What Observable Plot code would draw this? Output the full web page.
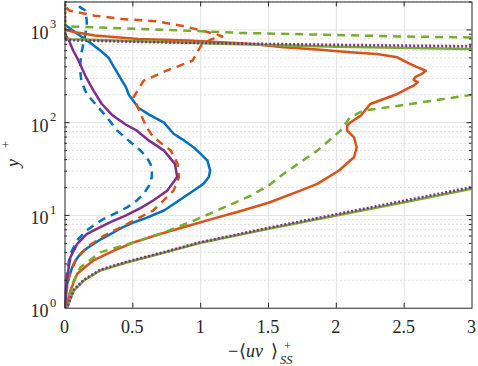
<!DOCTYPE html>
<html>
<head>
<meta charset="utf-8">
<script src="https://cdn.jsdelivr.net/npm/d3@7"></script>
<script src="https://cdn.jsdelivr.net/npm/@observablehq/plot@0.6"></script>
<style>
  html, body { margin: 0; padding: 0; background: white; }
  #chart { position: relative; width: 478px; height: 366px; }
  #labels { position: absolute; left: 0; top: 0; pointer-events: none; }
</style>
</head>
<body>
<div id="chart"></div>
<script>
// ---- tick values / labels ----
const xTicks = [0, 0.5, 1, 1.5, 2, 2.5, 3];
const xTickLabels = ["0", "0.5", "1", "1.5", "2", "2.5", "3"];
const xInnerTicks = [0.5, 1, 1.5, 2, 2.5];
const yDecades = [1, 10, 100, 1000];
const yExponents = ["0", "1", "2", "3"];
const yMinor = [2,3,4,5,6,7,8,9,20,30,40,50,60,70,80,90,200,300,400,500,600,700,800,900,2000];

// ---- series (x = -<uv>+_SS, y = y+) ----
const blueSolid = [[0,1],[0.008,1.4],[0.016,1.83],[0.035,2.3],[0.053,2.76],[0.08,3.3],[0.114,3.86],[0.16,4.4],[0.21,4.94],[0.27,5.6],[0.335,6.3],[0.42,7.4],[0.51,8.45],[0.6,9.4],[0.73,11.3],[0.875,15.7],[0.96,19],[1.02,21.9],[1.06,26],[1.07,30.5],[1.05,39],[1.0,46],[0.95,54],[0.88,64],[0.8,76],[0.73,100],[0.62,122],[0.54,145],[0.5,175],[0.47,200],[0.45,240],[0.42,284],[0.36,400],[0.32,505],[0.26,600],[0.2,700],[0.13,830],[0.06,980],[0.02,1080],[0,1150]];
const blueDashed = [[0,1],[0.005,1.4],[0.016,2.55],[0.04,3.86],[0.09,5.4],[0.16,6.9],[0.22,8],[0.286,9.2],[0.37,10.5],[0.46,12.3],[0.53,14.5],[0.58,17.1],[0.62,21],[0.64,25.9],[0.64,30],[0.63,36],[0.6,43],[0.556,50],[0.47,64],[0.385,82],[0.31,114],[0.24,150],[0.16,204],[0.12,280],[0.11,395],[0.12,550],[0.14,767],[0.15,906],[0.16,1100],[0.16,1260],[0.15,1620],[0.11,1760],[0.08,2000],[0.07,2100]];
const orangeSolid = [[0,1],[0.02,1.2],[0.04,1.55],[0.09,2.35],[0.15,2.8],[0.21,3.27],[0.36,4.17],[0.51,5.14],[0.7,6.3],[0.93,7.9],[1.1,9.3],[1.29,11.1],[1.5,13.7],[1.735,18.5],[1.86,21.9],[2.02,30.5],[2.13,42.4],[2.15,54],[2.13,69.6],[2.08,82],[2.08,93],[2.1,100],[2.18,119],[2.25,159],[2.35,180],[2.45,204],[2.52,231],[2.57,251],[2.6,272],[2.57,290],[2.58,309],[2.63,336],[2.66,363],[2.6,395],[2.52,447],[2.45,507],[2.3,550],[2.1,575],[1.86,615],[1.61,650],[1.4,700],[1.29,720],[0.91,767],[0.54,800],[0.22,870],[0.077,942],[0.004,1000],[0,1060]];
const orangeDashed = [[0,1],[0.004,1.31],[0.028,2.16],[0.077,3.27],[0.16,4.54],[0.29,6.07],[0.46,8.1],[0.556,9.6],[0.65,11.3],[0.7,13.3],[0.8,18.5],[0.84,25.9],[0.83,36],[0.78,50],[0.65,70],[0.6,90],[0.556,125],[0.505,188],[0.58,284],[0.75,364],[0.94,466],[1.01,708],[1.085,800],[1.16,850],[1.13,880],[1.01,985],[0.86,1110],[0.67,1240],[0.42,1310],[0.22,1425],[0.03,1620],[0,1800]];
const purpleSolid = [[0,1],[0.005,1.5],[0.016,2.16],[0.04,3.55],[0.09,4.94],[0.16,6.3],[0.26,7.5],[0.335,8.45],[0.45,10],[0.556,12],[0.65,14.5],[0.753,18.5],[0.827,25.9],[0.81,36],[0.73,50],[0.62,64],[0.53,82],[0.45,95],[0.35,120],[0.27,160],[0.21,222],[0.15,320],[0.1,466],[0.06,600],[0.03,767],[0.01,850],[0,900]];
const greenSolidLower = [[0,1],[0.016,1.02],[0.065,1.55],[0.14,1.99],[0.26,2.55],[0.46,3.13],[0.7,3.86],[0.925,4.74],[1.0,5.07],[1.5,7.17],[2.0,9.98],[2.5,13.9],[3.0,19.4],[3.2,22.5]];
const greenSolidUpper = [[3.2,618],[3.0,624],[2.0,660],[1.29,700],[0.5,760],[0.05,795],[0,810],[0,2100]];
const purpleDottedLower = [[0,1],[0.016,1.03],[0.065,1.58],[0.14,2.03],[0.26,2.6],[0.46,3.18],[0.7,3.92],[1.0,5.15],[1.5,7.35],[2.0,10.3],[2.5,14.4],[3.0,20.2],[3.2,23.5]];
const purpleDottedUpper = [[3.2,660],[3.0,665],[2.0,690],[1.29,712],[0.5,745],[0.05,775],[0,785],[0,2100]];
const greenDashedLower = [[0,1],[0.016,1.0],[0.053,1.83],[0.114,2.76],[0.26,4.0],[0.51,5.14],[0.7,6.3],[0.95,8.8],[1.29,14.5],[1.37,16.4],[1.5,21],[1.61,28],[1.86,50],[2.03,82],[2.1,114],[2.2,135],[2.47,153],[2.79,180],[3.0,200],[3.2,215]];
const greenDashedUpper = [[3.2,820],[3.0,830],[2.45,852],[1.86,890],[1.29,929],[0.91,980],[0.42,1040],[0.077,1085],[0,1100],[0,2100]];

const BLUE = "#0072BD", ORANGE = "#D95319", PURPLE = "#7E2F8E", GREEN = "#77AC30";
const W = 478, H = 366, ML = 64.5, MR = 6.5, MT = 1.5, MB = 58.3;
const PW = W - ML - MR, PH = H - MT - MB;
const SERIF = "Liberation Serif";

function curve(points, stroke, dash, width = 2.5) {
  return Plot.line(points, {x: d => d[0], y: d => d[1], stroke, strokeWidth: width,
    strokeDasharray: dash, strokeLinecap: "butt", clip: true, strokeLinejoin: "round"});
}

const plot = Plot.plot({
  width: W, height: H,
  marginLeft: ML, marginRight: MR, marginTop: MT, marginBottom: MB,
  x: {domain: [0, 3], axis: null},
  y: {type: "log", domain: [1, 2000], axis: null},
  style: {background: "white", color: "#262626"},
  marks: [
    Plot.ruleY(yMinor, {y: d => d, stroke: "#bdbdbd", strokeWidth: 1, strokeDasharray: "1,3"}),
    Plot.ruleX(xInnerTicks, {x: d => d, stroke: "#e3e3e3", strokeWidth: 1}),
    Plot.ruleY([10, 100, 1000], {y: d => d, stroke: "#e3e3e3", strokeWidth: 1}),
    curve(blueSolid, BLUE, null),
    curve(blueDashed, BLUE, "8,6"),
    curve(orangeSolid, ORANGE, null),
    curve(orangeDashed, ORANGE, "8,6"),
    curve(purpleSolid, PURPLE, null),
    curve(greenSolidLower, GREEN, null),
    curve(greenSolidUpper, GREEN, null),
    curve(greenDashedLower, GREEN, "8,6"),
    curve(greenDashedUpper, GREEN, "8,6"),
    curve(purpleDottedLower, PURPLE, "2,2", 2.6),
    curve(purpleDottedUpper, PURPLE, "2,2", 2.6),
    Plot.frame({stroke: "#262626", strokeWidth: 1}),
    // inward ticks
    Plot.tickX(xInnerTicks, {x: d => d, insetTop: PH - 5, stroke: "#262626"}),
    Plot.tickX(xInnerTicks, {x: d => d, insetBottom: PH - 5, stroke: "#262626"}),
    Plot.tickY([10, 100, 1000], {y: d => d, insetRight: PW - 5, stroke: "#262626"}),
    Plot.tickY([10, 100, 1000], {y: d => d, insetLeft: PW - 5, stroke: "#262626"}),
    Plot.tickY(yMinor, {y: d => d, insetRight: PW - 2.5, stroke: "#262626"}),
    Plot.tickY(yMinor, {y: d => d, insetLeft: PW - 2.5, stroke: "#262626"})
  ]
});

const chart = document.getElementById("chart");
chart.appendChild(plot);

// tick labels and axis titles, positioned from the plot's own scales
const sx = plot.scale("x"), sy = plot.scale("y");
const ov = d3.select(chart).append("svg").attr("id", "labels")
  .attr("width", W).attr("height", H).attr("fill", "#262626");
function txt(size) {
  return ov.append("text").attr("font-family", SERIF).attr("font-size", size);
}
xTicks.forEach((v, i) => {
  txt(18).attr("x", sx.apply(v)).attr("y", sy.apply(1) + 25)
    .attr("text-anchor", "middle").text(xTickLabels[i]);
});
yDecades.forEach((v, i) => {
  txt(18).attr("x", sx.apply(0) - 16).attr("y", sy.apply(v) + 9.5).attr("text-anchor", "end").text("10");
  txt(12.5).attr("x", sx.apply(0) - 14.5).attr("y", sy.apply(v) - 1).text(yExponents[i]);
});

txt(18).attr("x", 228).attr("y", 357).text("\u2212");
txt(18).attr("x", 239).attr("y", 357).text("\u27E8");
txt(18).attr("x", 246).attr("y", 357).attr("font-style", "italic").text("uv");
txt(18).attr("x", 271).attr("y", 357).text("\u27E9");
txt(12.5).attr("x", 284).attr("y", 350).text("+");
txt(12.5).attr("x", 280).attr("y", 364).attr("font-style", "italic").text("SS");

txt(18).attr("transform", "translate(19,167) rotate(-90)").attr("font-style", "italic").text("y");
txt(12.5).attr("transform", "translate(10,148) rotate(-90)").text("+");
</script>
</body>
</html>
